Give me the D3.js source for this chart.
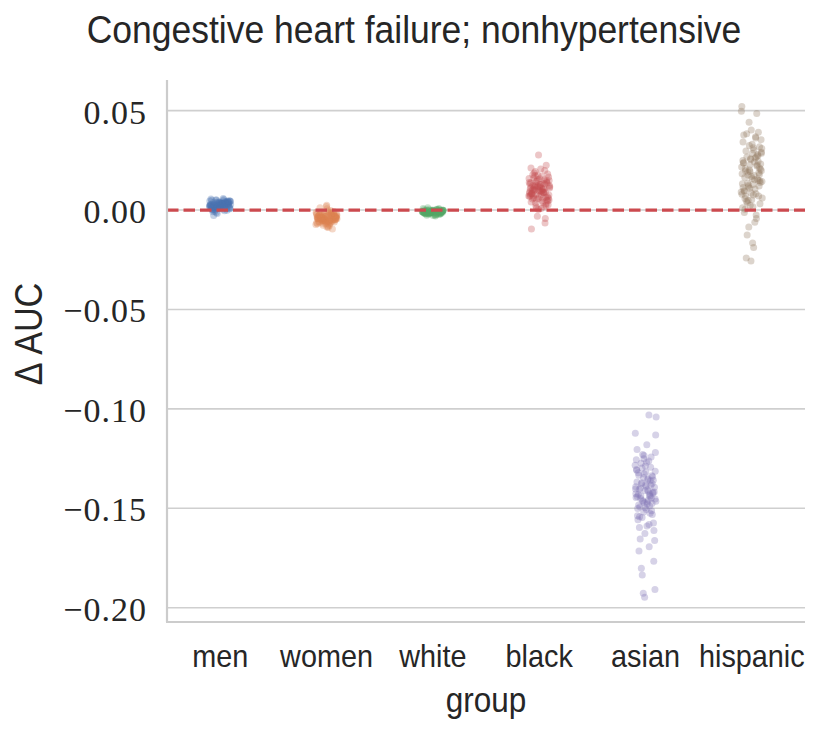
<!DOCTYPE html>
<html><head><meta charset="utf-8">
<script src="https://cdn.jsdelivr.net/npm/d3@7"></script>
<style>body{margin:0;background:#fff}</style>
</head><body><svg id="c" width="831" height="734"></svg>
<script>
const groups = ["men","women","white","black","asian","hispanic"];
const colors = ["#4C72B0","#DD8452","#55A868","#C44E52","#8172B3","#937860"];
const yTicks = [0.05, 0.00, -0.05, -0.10, -0.15, -0.20];
const yTickLabels = ["0.05","0.00","\u22120.05","\u22120.10","\u22120.15","\u22120.20"];
const titleText = "Congestive heart failure; nonhypertensive";
const xLabel = "group";
const yLabel = "\u0394 AUC";

const men = [0.0021,0.0034,0.0009,0.0042,0.0017,0.0028,-0.0004,0.0051,0.0013,0.0025,
0.0038,0.0006,0.0031,0.0019,0.0047,0.0002,0.0024,0.0036,0.0011,0.0029,
-0.0018,0.0044,0.0015,0.0027,0.0033,0.0008,0.0055,0.0022,0.0012,0.0039,
0.0026,-0.0009,0.0035,0.0018,0.0045,0.0004,0.0023,0.0032,0.0014,0.0049,
0.0020,0.0037,0.0007,0.0030,-0.0027,0.0041,0.0016,0.0026,0.0053,0.0010,
0.0033,0.0021,0.0001,0.0043,0.0019,0.0028,0.0035,0.0005,0.0024,0.0040,
0.0012,0.0031,-0.0013,0.0047,0.0022,0.0017,0.0036,0.0009,0.0027,0.0058,
0.0014,0.0039,0.0025,0.0003,0.0032,0.0018,0.0044,0.0011,0.0029,-0.0001,
0.0037,0.0023,0.0015,0.0050,0.0020,0.0034,0.0007,0.0026,0.0041,0.0016,
0.0030,-0.0006,0.0046,0.0021,0.0013,0.0038,0.0024,0.0008,0.0033,0.0019];
const women = [-0.0041,-0.0027,-0.0056,-0.0012,-0.0048,-0.0033,-0.0069,-0.0021,-0.0052,-0.0038,
-0.0005,-0.0062,-0.0029,-0.0045,-0.0017,-0.0078,-0.0036,-0.0051,0.0018,-0.0043,
-0.0024,-0.0059,-0.0031,-0.0088,-0.0039,-0.0014,-0.0054,-0.0035,-0.0066,-0.0026,
-0.0047,0.0006,-0.0042,-0.0057,-0.0019,-0.0073,-0.0037,-0.0049,-0.0028,-0.0061,
-0.0034,-0.0009,-0.0053,-0.0040,-0.0082,-0.0023,-0.0046,-0.0032,-0.0064,-0.0015,
-0.0044,-0.0030,0.0024,-0.0058,-0.0037,-0.0050,-0.0020,-0.0071,-0.0039,-0.0026,
-0.0055,-0.0043,-0.0002,-0.0067,-0.0033,-0.0048,-0.0025,-0.0095,-0.0041,-0.0011,
-0.0052,-0.0036,-0.0060,-0.0029,-0.0045,-0.0017,-0.0076,-0.0038,-0.0054,0.0011,
-0.0031,-0.0047,-0.0022,-0.0063,-0.0040,-0.0035,-0.0085,-0.0027,-0.0050,-0.0013,
-0.0044,-0.0058,-0.0034,-0.0007,-0.0069,-0.0039,-0.0024,-0.0053,-0.0046,-0.0030];
const white = [-0.0008,-0.0014,-0.0003,-0.0011,0.0002,-0.0018,-0.0006,-0.0012,-0.0001,-0.0021,
-0.0009,-0.0004,-0.0015,0.0005,-0.0010,-0.0007,-0.0025,-0.0002,-0.0013,-0.0009,
-0.0005,-0.0017,0.0001,-0.0011,-0.0008,-0.0019,-0.0003,-0.0012,0.0008,-0.0006,
-0.0014,-0.0010,-0.0028,-0.0004,-0.0009,-0.0016,-0.0001,-0.0012,-0.0007,-0.0020,
-0.0005,-0.0011,0.0003,-0.0015,-0.0008,-0.0002,-0.0013,-0.0022,-0.0006,-0.0010,
-0.0009,0.0012,-0.0017,-0.0004,-0.0011,-0.0007,-0.0014,-0.0001,-0.0024,-0.0008,
-0.0012,-0.0003,-0.0010,0.0004,-0.0016,-0.0006,-0.0009,-0.0019,-0.0002,-0.0013,
-0.0007,-0.0030,-0.0011,-0.0005,0.0000,-0.0015,-0.0008,-0.0012,-0.0004,-0.0018,
-0.0010,0.0006,-0.0013,-0.0007,-0.0021,-0.0003,-0.0011,-0.0009,-0.0016,-0.0005,
-0.0012,-0.0001,-0.0008,-0.0026,-0.0014,-0.0006,0.0002,-0.0010,-0.0017,-0.0004];
const black = [0.0112,0.0087,0.0143,0.0051,0.0096,0.0178,0.0023,0.0121,0.0069,0.0134,
0.0102,0.0045,0.0157,0.0081,0.0199,0.0012,0.0117,0.0093,0.0062,0.0148,
0.0277,0.0074,0.0108,0.0035,0.0166,0.0128,0.0055,0.0089,-0.0031,0.0139,
0.0099,0.0186,0.0067,0.0114,0.0041,0.0152,0.0079,0.0123,0.0008,0.0105,
0.0225,0.0058,0.0131,0.0091,0.0172,0.0027,0.0118,0.0084,-0.0065,0.0146,
0.0071,0.0109,0.0161,0.0049,0.0097,0.0137,0.0016,0.0125,0.0076,0.0207,
0.0101,0.0064,0.0154,0.0085,0.0038,0.0119,0.0181,0.0094,-0.0096,0.0132,
0.0053,0.0111,0.0169,0.0072,0.0141,0.0003,0.0106,0.0088,0.0194,0.0059,
0.0127,0.0082,-0.0042,0.0115,0.0159,0.0047,0.0098,0.0136,0.0066,0.0212,
0.0103,0.0019,0.0149,0.0078,0.0124,0.0031,0.0175,0.0092,0.0061,0.0113];
const asian = [-0.1412,-0.1368,-0.1525,-0.1297,-0.1453,-0.1589,-0.1334,-0.1476,-0.1251,-0.1392,
-0.1031,-0.1437,-0.1612,-0.1318,-0.1501,-0.1384,-0.1229,-0.1465,-0.1356,-0.1543,
-0.1424,-0.1947,-0.1305,-0.1489,-0.1377,-0.1662,-0.1268,-0.1431,-0.1512,-0.1345,
-0.1123,-0.1458,-0.1399,-0.1574,-0.1287,-0.1441,-0.1362,-0.1836,-0.1219,-0.1479,
-0.1405,-0.1531,-0.1328,-0.1446,-0.1694,-0.1273,-0.1418,-0.1389,-0.1558,-0.1242,
-0.1466,-0.1041,-0.1351,-0.1493,-0.1419,-0.1627,-0.1309,-0.1428,-0.1372,-0.1909,
-0.1181,-0.1484,-0.1336,-0.1519,-0.1403,-0.1262,-0.1451,-0.1767,-0.1383,-0.1538,
-0.1294,-0.1461,-0.1132,-0.1407,-0.1597,-0.1341,-0.1472,-0.1256,-0.1436,-0.1802,
-0.1394,-0.1506,-0.1321,-0.1448,-0.1928,-0.1283,-0.1414,-0.1655,-0.1359,-0.1497,
-0.1205,-0.1439,-0.1547,-0.1314,-0.1469,-0.1715,-0.1376,-0.1235,-0.1427,-0.1581];
const hispanic = [0.0213,0.0087,0.0342,-0.0025,0.0176,0.0291,0.0129,0.0058,0.0245,0.0194,
0.0521,0.0106,0.0267,0.0032,0.0158,0.0378,0.0221,-0.0085,0.0143,0.0302,
0.0069,0.0187,0.0254,0.0011,0.0362,0.0135,0.0231,-0.0166,0.0094,0.0279,
0.0201,0.0497,0.0152,0.0043,0.0318,0.0169,0.0238,-0.0042,0.0117,0.0286,
0.0076,0.0209,0.0391,0.0024,0.0183,0.0262,-0.0126,0.0139,0.0331,0.0098,
0.0226,0.0441,0.0061,0.0174,0.0297,0.0121,-0.0256,0.0249,0.0082,0.0191,
0.0354,0.0016,0.0163,0.0273,0.0109,0.0217,-0.0061,0.0384,0.0147,0.0052,
0.0236,0.0486,0.0125,0.0309,-0.0189,0.0197,0.0071,0.0258,0.0132,0.0369,
0.0036,0.0205,0.0284,-0.0013,0.0156,0.0325,0.0091,0.0242,-0.0241,0.0179,
0.0402,0.0113,0.0268,0.0048,0.0198,0.0313,0.0004,0.0149,0.0228,0.0079];
const seriesValues = [men, women, white, black, asian, hispanic];

const svg = d3.select("#c");
const L = 167, R = 805, T = 80, B = 622;
const y = d3.scaleLinear().domain([-0.2072, 0.0654]).range([B, T]);
const x = d3.scaleBand().domain(groups).range([L, R]).padding(0);
const bw = x.bandwidth();
const serif = "'Liberation Serif','DejaVu Serif',serif";
const sans = "'Liberation Sans','DejaVu Sans',sans-serif";
const ink = "#262626";

// gridlines
svg.append("g").selectAll("line").data(yTicks).join("line")
  .attr("x1", L).attr("x2", R).attr("y1", d => y(d)).attr("y2", d => y(d))
  .attr("stroke", "#cfcfcf").attr("stroke-width", 1.6);

// y tick labels
svg.append("g").selectAll("text").data(yTicks).join("text")
  .attr("x", 147).attr("y", d => y(d) + 13)
  .attr("text-anchor", "end").attr("font-family", serif).attr("font-size", 34)
  .attr("letter-spacing", 1).attr("fill", ink).text((d, i) => yTickLabels[i]);

// points
const pts = [];
seriesValues.forEach((vals, gi) => {
  vals.forEach((v, i) => {
    const j = ((i * 0.6180339887 + gi * 0.37) % 1) - 0.5;
    pts.push({g: groups[gi], v: v, j: j, c: colors[gi]});
  });
});
svg.append("g").selectAll("circle").data(pts).join("circle")
  .attr("cx", d => x(d.g) + bw / 2 + d.j * 2 * 0.1 * bw)
  .attr("cy", d => y(d.v))
  .attr("r", 3.5)
  .attr("fill", d => d.c).attr("fill-opacity", 0.32);

// zero line
svg.append("line").attr("x1", L).attr("x2", R).attr("y1", y(0)).attr("y2", y(0))
  .attr("stroke", "#CC4A4F").attr("stroke-width", 3.2).attr("stroke-dasharray", "11.5,5");

// spines
svg.append("line").attr("x1", L).attr("x2", L).attr("y1", T).attr("y2", B)
  .attr("stroke", "#cccccc").attr("stroke-width", 2.2);
svg.append("line").attr("x1", L - 1).attr("x2", R).attr("y1", B).attr("y2", B)
  .attr("stroke", "#cccccc").attr("stroke-width", 2.2);

// x tick labels (condensed sans)
svg.append("g").selectAll("text").data(groups).join("text")
  .attr("transform", d => `translate(${x(d) + bw / 2},667) scale(0.9,1)`)
  .attr("text-anchor", "middle").attr("font-family", sans).attr("font-size", 32)
  .attr("fill", ink).text(d => d);

// axis labels
svg.append("text").attr("transform", `translate(${(L + R) / 2},712) scale(0.9,1)`)
  .attr("text-anchor", "middle")
  .attr("font-family", sans).attr("font-size", 35).attr("fill", ink).text(xLabel);
svg.append("text").attr("transform", `translate(42,334) rotate(-90) scale(0.9,1)`)
  .attr("text-anchor", "middle").attr("font-family", sans).attr("font-size", 38)
  .attr("fill", ink).text(yLabel);

// title (figure-centred)
svg.append("text").attr("transform", `translate(414,43) scale(0.91,1)`)
  .attr("text-anchor", "middle")
  .attr("font-family", sans).attr("font-size", 39).attr("fill", ink).text(titleText);
</script></body></html>
